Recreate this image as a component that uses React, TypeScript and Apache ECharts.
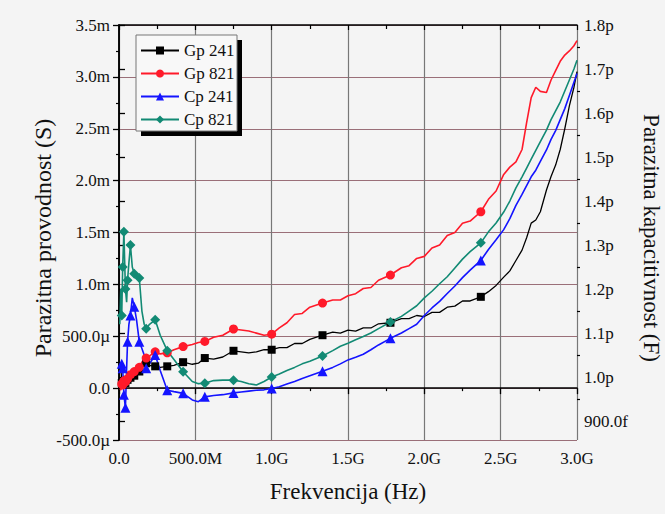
import React, { useEffect, useRef } from 'react';
import * as echarts from 'echarts';

const SERIF = 'Liberation Serif';

// Frequency in GHz
const freqs = [
  0.005, 0.012, 0.018, 0.024, 0.032, 0.042, 0.05, 0.056, 0.065, 0.075,
  0.087, 0.1, 0.115, 0.133, 0.15, 0.165, 0.178, 0.2, 0.237, 0.27,
  0.316, 0.36, 0.42, 0.48, 0.52, 0.562, 0.62, 0.68, 0.75, 0.8,
  0.85, 0.9, 0.95, 1.0, 1.05, 1.1, 1.15, 1.2, 1.25, 1.333,
  1.4, 1.45, 1.5, 1.55, 1.6, 1.65, 1.7, 1.778, 1.85, 1.9,
  1.95, 2.0, 2.05, 2.1, 2.15, 2.2, 2.25, 2.3, 2.37, 2.42,
  2.47, 2.52, 2.56, 2.6, 2.64, 2.67, 2.7, 2.73, 2.76, 2.8,
  2.83, 2.86, 2.89, 2.92, 2.95, 2.98, 3.0,
];

// Frequencies carrying a symbol
const markerFreqs = [0.018, 0.024, 0.032, 0.042, 0.056, 0.075, 0.1, 0.133, 0.178, 0.237, 0.316, 0.42, 0.562, 0.75, 1.0, 1.333, 1.778, 2.37];

// Conductance in mS (left axis)
const gp241 = [
  0.24, 0.22, 0.05, 0.03, 0.06, 0.05, 0.07, 0.08, 0.08, 0.10,
  0.10, 0.12, 0.13, 0.16, 0.20, 0.22, 0.24, 0.22, 0.21, 0.20,
  0.21, 0.22, 0.25, 0.23, 0.24, 0.29, 0.28, 0.30, 0.36, 0.35,
  0.34, 0.35, 0.37, 0.37, 0.39, 0.39, 0.43, 0.43, 0.47, 0.51,
  0.54, 0.53, 0.56, 0.55, 0.58, 0.58, 0.62, 0.63, 0.67, 0.67,
  0.70, 0.69, 0.73, 0.73, 0.78, 0.79, 0.84, 0.84, 0.88, 0.93,
  0.99, 1.07, 1.13, 1.23, 1.33, 1.45, 1.59, 1.62, 1.70, 1.91,
  2.04, 2.15, 2.30, 2.50, 2.72, 2.90, 3.05,
];
const gp821 = [
  0.0, -0.02, 0.04, 0.03, 0.07, 0.06, 0.10, 0.09, 0.12, 0.13,
  0.15, 0.16, 0.19, 0.20, 0.25, 0.28, 0.29, 0.31, 0.35, 0.33,
  0.34, 0.37, 0.40, 0.42, 0.44, 0.45, 0.49, 0.51, 0.57, 0.56,
  0.55, 0.53, 0.51, 0.52, 0.58, 0.63, 0.71, 0.72, 0.78, 0.82,
  0.85, 0.85, 0.89, 0.91, 0.96, 0.97, 1.04, 1.09, 1.16, 1.18,
  1.25, 1.27, 1.35, 1.38, 1.47, 1.50, 1.59, 1.61, 1.70, 1.82,
  1.90, 2.06, 2.13, 2.18, 2.30, 2.56, 2.80, 2.90, 2.86, 2.85,
  2.97, 3.06, 3.15, 3.21, 3.25, 3.30, 3.35,
];
// Capacitance in pF (right axis)
const cp241 = [
  1.03, 1.03, 1.03, 1.02, 0.96, 0.93, 1.02, 1.08, 1.12, 1.14,
  1.18, 1.16, 1.13, 1.08, 1.065, 1.05, 1.02, 1.03, 1.05, 1.015,
  0.97, 0.967, 0.963, 0.948, 0.944, 0.955, 0.958, 0.96, 0.964, 0.966,
  0.968, 0.97, 0.971, 0.974, 0.978, 0.984, 0.99, 0.997, 1.003, 1.013,
  1.022, 1.03, 1.039, 1.045, 1.052, 1.062, 1.073, 1.088, 1.1, 1.11,
  1.12, 1.14, 1.157, 1.172, 1.19, 1.207, 1.226, 1.243, 1.265, 1.29,
  1.312, 1.335, 1.36, 1.39, 1.415, 1.435, 1.455, 1.47, 1.49, 1.516,
  1.54, 1.56, 1.585, 1.61, 1.64, 1.67, 1.69,
];
const cp821 = [
  1.12, 1.2, 1.14, 1.25, 1.33, 1.2, 1.17, 1.22, 1.26, 1.30,
  1.25, 1.235, 1.23, 1.225, 1.15, 1.12, 1.11, 1.12, 1.13, 1.095,
  1.06, 1.04, 1.012, 0.99, 0.985, 0.986, 0.992, 0.993, 0.993, 0.99,
  0.985, 0.982, 0.99, 1.0, 1.007, 1.015, 1.022, 1.03, 1.036, 1.048,
  1.06, 1.07, 1.077, 1.085, 1.092, 1.1, 1.11, 1.125, 1.138, 1.15,
  1.162, 1.18, 1.195, 1.212, 1.228, 1.248, 1.268, 1.285, 1.305, 1.33,
  1.35, 1.375, 1.40, 1.43, 1.455, 1.475, 1.495, 1.515, 1.535, 1.561,
  1.585, 1.605, 1.625, 1.65, 1.675, 1.70, 1.72,
];

const seriesNames = ['Gp 241', 'Gp 821', 'Cp 241', 'Cp 821'];
const rightMajor = [0.9, 1.0, 1.1, 1.2, 1.3, 1.4, 1.5, 1.6, 1.7, 1.8];
const rightMinor = [0.95, 1.05, 1.15, 1.25, 1.35, 1.45, 1.55, 1.65, 1.75];

const xTitle = 'Frekvencija (Hz)';
const leftTitle = 'Parazitna provodnost (S)';
const rightTitle = 'Parazitna kapacitivnost (F)';

export default function App() {
  const ref = useRef<HTMLDivElement>(null);
  useEffect(() => {
    const chart = echarts.init(ref.current as HTMLDivElement, null, { renderer: 'svg' });
    const markerSet = new Set(markerFreqs);
    const mk = (vals: number[], sym: string) =>
      freqs.map((f, i) => ({ value: [f, vals[i]], symbol: markerSet.has(f) ? sym : 'none' }));

    const labelStyle = { fontFamily: SERIF, fontSize: 17, color: '#111' };
    const axisLine = { show: true, lineStyle: { color: '#000', width: 1.5 } };

    const fmtLeft = (v: number) => {
      if (Math.abs(v) < 1e-9) return '0.0';
      if (Math.abs(v) < 1) return (v * 1000).toFixed(1) + 'µ';
      return v.toFixed(1) + 'm';
    };
    const fmtX = (v: number) => {
      if (Math.abs(v) < 1e-9) return '0.0';
      if (v < 1) return (v * 1000).toFixed(1) + 'M';
      return v.toFixed(1) + 'G';
    };
    const fmtRight = (v: number) => (v < 1 - 1e-9 ? (v * 1000).toFixed(1) + 'f' : v.toFixed(1) + 'p');

    const option: any = {
      animation: false,
      backgroundColor: '#f4f4f4',
      textStyle: { fontFamily: SERIF },
      grid: { left: 119, right: 88, top: 25, bottom: 74, containLabel: false, outerBoundsMode: 'none' },
      legend: {
        orient: 'vertical',
        left: 140,
        top: 42,
        padding: 0,
        itemGap: 6,
        itemWidth: 38,
        itemHeight: 10,
        data: seriesNames,
        textStyle: { fontFamily: SERIF, fontSize: 17, color: '#111', lineHeight: 17 },
        z: 5,
      },
      xAxis: [
        {
          type: 'value', position: 'bottom', min: 0, max: 3, interval: 0.5,
          axisLine,
          axisTick: { show: true, inside: false, length: 6, lineStyle: { color: '#000', width: 1.3 } },
          minorTick: { show: true, splitNumber: 2, length: 3, lineStyle: { color: '#000', width: 1.2 } },
          axisLabel: { ...labelStyle, margin: 10, formatter: fmtX },
          splitLine: { show: true, lineStyle: { color: '#777', width: 1.2 } },
        },
        {
          type: 'value', position: 'top', min: 0, max: 3, interval: 0.5,
          axisLine,
          axisTick: { show: true, inside: true, length: 5, lineStyle: { color: '#000', width: 1.2 } },
          minorTick: { show: true, splitNumber: 2, length: 4, lineStyle: { color: '#000', width: 1.2 } },
          axisLabel: { show: false },
          splitLine: { show: false },
        },
      ],
      yAxis: [
        {
          type: 'value', position: 'left', min: -0.5, max: 3.5, interval: 0.5,
          axisLine,
          axisTick: { show: true, inside: false, length: 6, lineStyle: { color: '#000', width: 1.3 } },
          minorTick: { show: true, splitNumber: 2, length: 3, lineStyle: { color: '#000', width: 1.2 } },
          axisLabel: { ...labelStyle, margin: 9, formatter: fmtLeft },
          splitLine: { show: true, lineStyle: { color: '#9a6f78', width: 1.2 } },
        },
        {
          type: 'value', position: 'right', min: 0.857, max: 1.8,
          axisLine,
          axisTick: { show: true, inside: false, length: 6, customValues: rightMajor, lineStyle: { color: '#000', width: 1.3 } },
          axisLabel: { ...labelStyle, margin: 7, customValues: rightMajor, formatter: fmtRight },
          splitLine: { show: false },
        },
        {
          type: 'value', position: 'right', min: 0.857, max: 1.8,
          axisLine: { show: false },
          axisTick: { show: true, inside: false, length: 3, customValues: rightMinor, lineStyle: { color: '#000', width: 1.2 } },
          axisLabel: { show: false },
          splitLine: { show: false },
        },
      ],
      graphic: [
        { type: 'rect', z: 3, shape: { x: 141, y: 40, width: 101, height: 96 }, style: { fill: '#000' } },
        { type: 'rect', z: 3, shape: { x: 136, y: 35, width: 101, height: 96 }, style: { fill: '#f8f8f8', stroke: '#777', lineWidth: 1 } },
        {
          type: 'text', x: 348, y: 491,
          style: { text: xTitle, fontFamily: SERIF, fontSize: 23, fill: '#111', textAlign: 'center', textVerticalAlign: 'middle' },
        },
        {
          type: 'text', x: 43, y: 238, rotation: Math.PI / 2,
          style: { text: leftTitle, fontFamily: SERIF, fontSize: 24, fill: '#111', textAlign: 'center', textVerticalAlign: 'middle' },
        },
        {
          type: 'text', x: 651, y: 238, rotation: -Math.PI / 2,
          style: { text: rightTitle, fontFamily: SERIF, fontSize: 23, fill: '#111', textAlign: 'center', textVerticalAlign: 'middle' },
        },
      ],
      series: [
        {
          name: 'Gp 241', type: 'line', xAxisIndex: 0, yAxisIndex: 0, data: mk(gp241, 'rect'),
          symbol: 'rect', symbolSize: 8, showAllSymbol: true,
          lineStyle: { color: '#000', width: 1.3 }, itemStyle: { color: '#000' },
        },
        {
          name: 'Gp 821', type: 'line', xAxisIndex: 0, yAxisIndex: 0, data: mk(gp821, 'circle'),
          symbol: 'circle', symbolSize: 9, showAllSymbol: true,
          lineStyle: { color: '#ff1a2a', width: 1.6 }, itemStyle: { color: '#ff1a2a' },
        },
        {
          name: 'Cp 241', type: 'line', xAxisIndex: 0, yAxisIndex: 1, data: mk(cp241, 'triangle'),
          symbol: 'triangle', symbolSize: 10, showAllSymbol: true,
          lineStyle: { color: '#1414ff', width: 1.6 }, itemStyle: { color: '#1414ff' },
        },
        {
          name: 'Cp 821', type: 'line', xAxisIndex: 0, yAxisIndex: 1, data: mk(cp821, 'diamond'),
          symbol: 'diamond', symbolSize: 10, showAllSymbol: true,
          lineStyle: { color: '#128a74', width: 1.6 }, itemStyle: { color: '#128a74' },
        },
      ],
    };
    chart.setOption(option);
    return () => chart.dispose();
  }, []);
  return <div ref={ref} style={{ position: 'fixed', left: 0, top: 0, width: 665, height: 514 }} />;
}
